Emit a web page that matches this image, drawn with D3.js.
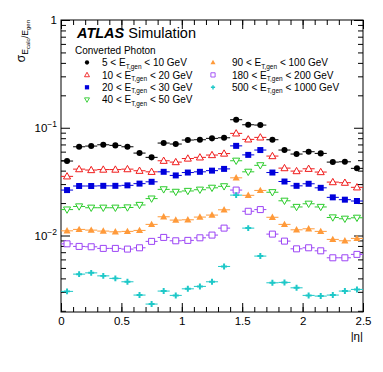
<!doctype html>
<html lang="en">
<head>
  <meta charset="utf-8">
  <script src="https://d3js.org/d3.v7.min.js"></script>
  <style>
    body { margin: 0; background: #fff; }
    text { font-family: "Liberation Sans", Arial, Helvetica, sans-serif; }
  </style>
</head>
<body>
  <div id="chart"></div>
  <script>
    // bin centres in |eta|, width 0.1
    var eta = [0.05, 0.15, 0.25, 0.35, 0.45, 0.55, 0.65, 0.75, 0.85, 0.95, 1.05, 1.15, 1.25,
               1.35, 1.45, 1.55, 1.65, 1.75, 1.85, 1.95, 2.05, 2.15, 2.25, 2.35, 2.45];

    var res5to10 = [0.0491, 0.0666, 0.0676, 0.0695, 0.0686, 0.0666, 0.0582, 0.0531, 0.0721, 0.0706, 0.0769, 0.0774, 0.0797,
                    0.0807, 0.1187, 0.1066, 0.1059, 0.0774, 0.0621, 0.0570, 0.0599, 0.0578, 0.0480, 0.0483, 0.0420];
    var res10to20 = [0.0354, 0.0413, 0.0405, 0.0409, 0.0409, 0.0413, 0.0399, 0.0390, 0.0494, 0.0480, 0.0518, 0.0531, 0.0558,
                     0.0576, 0.0887, 0.0780, 0.0814, 0.0546, 0.0422, 0.0396, 0.0416, 0.0388, 0.0313, 0.0309, 0.0280];
    var res20to30 = [0.0264, 0.0288, 0.0288, 0.0289, 0.0289, 0.0292, 0.0303, 0.0315, 0.0390, 0.0361, 0.0384, 0.0390, 0.0400,
                     0.0415, 0.0679, 0.0560, 0.0621, 0.0384, 0.0317, 0.0289, 0.0302, 0.0277, 0.0226, 0.0215, 0.0209];
    var res40to50 = [0.0174, 0.0186, 0.0181, 0.0181, 0.0181, 0.0182, 0.0192, 0.0220, 0.0268, 0.0254, 0.0259, 0.0266, 0.0277,
                     0.0286, 0.0494, 0.0390, 0.0448, 0.0252, 0.0210, 0.0184, 0.0197, 0.0184, 0.0147, 0.0143, 0.0146];
    var res90to100 = [0.01105, 0.01139, 0.01122, 0.01099, 0.01082, 0.01092, 0.01115, 0.01268, 0.01492, 0.01390, 0.01399, 0.01482, 0.01547,
                      0.01732, 0.0343, 0.0236, 0.0262, 0.01476, 0.01268, 0.01129, 0.01154, 0.01092, 0.00920, 0.00893, 0.00940];
    var res180to200 = [0.00837, 0.00792, 0.00786, 0.00759, 0.00759, 0.00748, 0.00769, 0.00882, 0.00960, 0.00893, 0.00901, 0.00952, 0.01009,
                       0.01171, 0.0264, 0.01678, 0.01740, 0.01030, 0.00887, 0.00752, 0.00769, 0.00721, 0.00621, 0.00621, 0.00668];
    var res500to1000 = [0.00303, 0.00438, 0.00450, 0.00422, 0.00400, 0.00372, 0.00280, 0.00231, 0.00305, 0.00278, 0.00320, 0.00337, 0.00372,
                        0.00516, 0.0237, 0.01171, 0.00644, 0.00364, 0.00367, 0.00327, 0.00278, 0.00274, 0.00280, 0.00305, 0.00316];

    var lo = ["5", "10", "20", "40", "90", "180", "500"];
    var hi = ["10", "20", "30", "50", "100", "200", "1000"];

    var xTicks = [0, 0.5, 1, 1.5, 2, 2.5];
    var xTickLabels = ["0", "0.5", "1", "1.5", "2", "2.5"];
    var yTicks = [0.01, 0.1, 1];
    var yTickExp = ["\u22122", "\u22121", ""];

    var series = [
      {vals: res5to10, color: "#000000", shape: "circle", open: false},
      {vals: res10to20, color: "#f01c1c", shape: "up", open: true},
      {vals: res20to30, color: "#0000dc", shape: "square", open: false},
      {vals: res40to50, color: "#2ccc2c", shape: "down", open: true},
      {vals: res90to100, color: "#ff9a3a", shape: "up", open: false},
      {vals: res180to200, color: "#9c45f5", shape: "square", open: true},
      {vals: res500to1000, color: "#1ec8c8", shape: "cross", open: false}
    ];

    var W = 383, H = 372;
    var margin = {top: 20, right: 20, bottom: 60, left: 61};

    var svg = d3.select("#chart").append("svg")
        .attr("width", W).attr("height", H);

    var x = d3.scaleLinear().domain([0, 2.5]).range([margin.left, W - margin.right]);
    var y = d3.scaleLog().domain([0.00195, 1]).range([H - margin.bottom, margin.top]);

    function symbolPath(shape, s) {
      if (shape == "circle") return d3.symbol().type(d3.symbolCircle).size(s * 0.8)();
      if (shape == "square") return d3.symbol().type(d3.symbolSquare).size(s)();
      if (shape == "cross") return d3.symbol().type(d3.symbolCross).size(s * 0.55)();
      var r = Math.sqrt(s) * 0.62;
      if (shape == "up") return "M0," + (-r) + "L" + (r * 0.95) + "," + (r * 0.7) + "L" + (-r * 0.95) + "," + (r * 0.7) + "Z";
      return "M0," + r + "L" + (r * 0.95) + "," + (-r * 0.7) + "L" + (-r * 0.95) + "," + (-r * 0.7) + "Z";
    }

    // frame
    svg.append("rect")
      .attr("x", margin.left).attr("y", margin.top)
      .attr("width", x(2.5) - x(0)).attr("height", y(0.00195) - y(1))
      .attr("fill", "none").attr("stroke", "#000").attr("stroke-width", 1);

    var minorX = d3.range(0, 26).map(function(i) { return i / 10; });
    var minorY = [];
    [0.001, 0.01, 0.1].forEach(function(d) {
      for (var k = 2; k <= 9; k++) if (d * k >= 0.00195) minorY.push(d * k);
    });

    function ticks(g) { g.select(".domain").remove(); g.selectAll("line").attr("stroke", "#000"); }

    svg.append("g").attr("transform", "translate(0," + y.range()[0] + ")")
      .call(d3.axisBottom(x).tickValues(minorX).tickSize(-5).tickFormat("")).call(ticks);
    svg.append("g").attr("transform", "translate(0," + y.range()[0] + ")")
      .call(d3.axisBottom(x).tickValues(xTicks).tickSize(-9).tickPadding(5)
        .tickFormat(function(d, i) { return xTickLabels[i]; }))
      .call(ticks)
      .selectAll("text").attr("font-size", 11.5).attr("fill", "#000");
    svg.append("g").attr("transform", "translate(0," + y.range()[1] + ")")
      .call(d3.axisTop(x).tickValues(minorX).tickSize(-5).tickFormat("")).call(ticks);
    svg.append("g").attr("transform", "translate(0," + y.range()[1] + ")")
      .call(d3.axisTop(x).tickValues(xTicks).tickSize(-9).tickFormat("")).call(ticks);

    svg.append("g").attr("transform", "translate(" + x.range()[0] + ",0)")
      .call(d3.axisLeft(y).tickValues(minorY).tickSize(-5).tickFormat("")).call(ticks);
    svg.append("g").attr("transform", "translate(" + x.range()[0] + ",0)")
      .call(d3.axisLeft(y).tickValues(yTicks).tickSize(-9).tickFormat(""))
      .call(ticks);
    svg.append("g").attr("transform", "translate(" + x.range()[1] + ",0)")
      .call(d3.axisRight(y).tickValues(minorY).tickSize(-5).tickFormat("")).call(ticks);
    svg.append("g").attr("transform", "translate(" + x.range()[1] + ",0)")
      .call(d3.axisRight(y).tickValues(yTicks).tickSize(-9).tickFormat("")).call(ticks);

    // y tick labels 10^n
    yTicks.forEach(function(v, i) {
      var t = svg.append("text").attr("x", x.range()[0] - 4).attr("y", y(v) + 4)
        .attr("text-anchor", "end").attr("font-size", 11.5);
      if (v == 1) { t.text("1"); return; }
      t.append("tspan").text("10");
      t.append("tspan").attr("dy", -5).attr("font-size", 8.5).text(yTickExp[i]);
    });

    // axis titles
    svg.append("text").attr("x", x.range()[1]).attr("y", 340)
      .attr("text-anchor", "end").attr("font-size", 11.5).text("|\u03b7|");

    var yt = svg.append("text")
      .attr("transform", "translate(25," + margin.top + ") rotate(-90)")
      .attr("text-anchor", "end").attr("font-size", 12);
    yt.append("tspan").text("\u03c3");
    yt.append("tspan").attr("dy", 3).attr("font-size", 8.5).text("E");
    yt.append("tspan").attr("dy", 2).attr("font-size", 6).text("calo");
    yt.append("tspan").attr("dy", -2).attr("font-size", 8.5).text("/E");
    yt.append("tspan").attr("dy", 2).attr("font-size", 6).text("gen");

    // data
    series.forEach(function(s) {
      var g = svg.append("g");
      g.selectAll("line").data(s.vals).enter().append("line")
        .attr("x1", function(d, i) { return x(eta[i] - 0.05); })
        .attr("x2", function(d, i) { return x(eta[i] + 0.05); })
        .attr("y1", function(d) { return y(d); })
        .attr("y2", function(d) { return y(d); })
        .attr("stroke", s.color).attr("stroke-width", 1);
      g.selectAll("path").data(s.vals).enter().append("path")
        .attr("d", symbolPath(s.shape, 36))
        .attr("transform", function(d, i) { return "translate(" + x(eta[i]) + "," + y(d) + ")"; })
        .attr("fill", s.open ? "#fff" : s.color)
        .attr("stroke", s.color).attr("stroke-width", s.open ? 1 : 0);
    });

    // labels
    var lab = svg.append("text").attr("x", 77).attr("y", 38).attr("font-size", 14.5);
    lab.append("tspan").attr("font-weight", "bold").attr("font-style", "italic").text("ATLAS");
    lab.append("tspan").text(" Simulation");
    svg.append("text").attr("x", 75).attr("y", 54).attr("font-size", 10).text("Converted Photon");

    // legend
    series.forEach(function(s, i) {
      var col = i < 4 ? 0 : 1, row = i < 4 ? i : i - 4;
      var mx = col == 0 ? 87 : 213, tx = col == 0 ? 102 : 232, ty = 62.5 + row * 12.4;
      svg.append("path").attr("d", symbolPath(s.shape, 18))
        .attr("transform", "translate(" + mx + "," + ty + ")")
        .attr("fill", s.open ? "#fff" : s.color)
        .attr("stroke", s.color).attr("stroke-width", s.open ? 0.9 : 0);
      var t = svg.append("text").attr("x", tx).attr("y", ty + 3.6).attr("font-size", 10);
      t.append("tspan").text(lo[i] + " < E");
      t.append("tspan").attr("dy", 2.5).attr("font-size", 6.5).text("T,gen");
      t.append("tspan").attr("dy", -2.5).text(" < " + hi[i] + " GeV");
    });
  </script>
</body>
</html>
